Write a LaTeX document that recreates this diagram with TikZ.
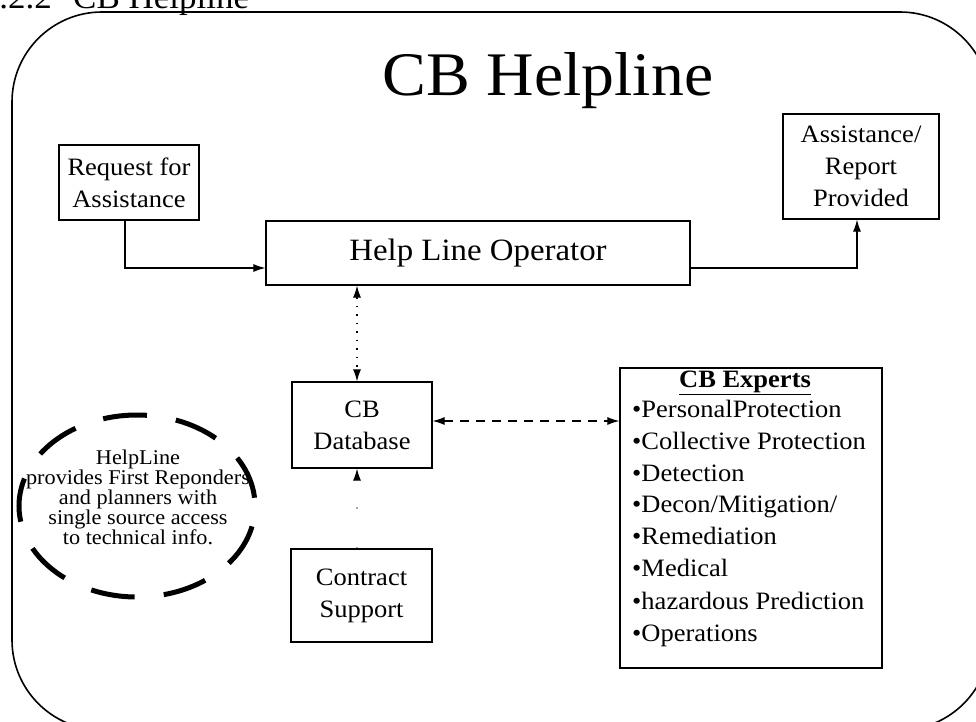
\documentclass[tikz,border=0pt]{standalone}
\usepackage{fontspec}
\setmainfont[FakeStretch=1.06]{Liberation Serif}
\usetikzlibrary{arrows.meta,shapes.geometric}
\begin{document}
\begin{tikzpicture}[x=1pt,y=-1pt,
  box/.style={draw, line width=1.2pt, inner sep=0pt, align=center,
              font=\fontsize{25}{32}\selectfont},
  arr/.style={-{Latex[length=12pt,width=8pt]}, line width=1.1pt},
  biarr/.style={{Latex[length=12pt,width=8pt]}-{Latex[length=12pt,width=8pt]}, line width=1.1pt},
  listitem/.style={anchor=base west, inner sep=0pt, font=\fontsize{25}{32}\selectfont}
]
\useasboundingbox (0,0) rectangle (976,721);

% outer frame
\draw[line width=1.6pt, rounded corners=90pt] (12,12) rectangle (990,730);

% clipped heading (cut off at the top edge, as in the reference)
\node[anchor=base east, inner sep=0pt, font=\fontsize{33}{40}\selectfont] (secnum) at (52,8) {5.2.2};
\node[anchor=base west, inner sep=0pt, font=\fontsize{33}{40}\selectfont] (sechead) at (73,8) {CB Helpline};

% title
\node[anchor=base, inner sep=0pt, font=\fontsize{62}{70}\selectfont] (title) at (548,95) {CB Helpline};

% boxes
\node[box, minimum width=140pt, minimum height=75pt] (req) at (129,182.5) {Request for\\Assistance};
\node[box, minimum width=424pt, minimum height=64pt, font=\fontsize{31}{36}\selectfont] (hlo) at (478,253) {Help Line Operator};
\node[box, minimum width=156pt, minimum height=105pt] (ast) at (861,166.5) {Assistance/\\Report\\Provided};
\node[box, minimum width=140pt, minimum height=86pt] (db) at (362,425) {CB\\Database};
\node[box, minimum width=141pt, minimum height=93pt] (cs) at (361.5,595.5) {Contract\\Support};
\node[box, minimum width=262pt, minimum height=300pt] (exp) at (751,518) {};

% experts list
\node[anchor=base, inner sep=0pt, font=\fontsize{25}{32}\selectfont\bfseries] (exphead) at (745,387) {\underline{CB Experts}};
\node[listitem] (e1) at (632,417) {\textbullet PersonalProtection};
\node[listitem] (e2) at (632,449) {\textbullet Collective Protection};
\node[listitem] (e3) at (632,481) {\textbullet Detection};
\node[listitem] (e4) at (632,512) {\textbullet Decon/Mitigation/};
\node[listitem] (e5) at (632,544) {\textbullet Remediation};
\node[listitem] (e6) at (632,576) {\textbullet Medical};
\node[listitem] (e7) at (632,609) {\textbullet hazardous Prediction};
\node[listitem] (e8) at (632,641) {\textbullet Operations};

% note ellipse
\node[align=center, inner sep=0pt, font=\fontsize{21}{20}\selectfont] (notetext) at (138,497)
  {HelpLine\\provides First Reponders\\and planners with\\single source access\\to technical info.};
\node[ellipse, draw, line width=5pt, minimum width=236pt, minimum height=182pt,
      dash pattern=on 44pt off 29.3pt, dash phase=65pt] (note) at (137,506) {};

% connectors
\coordinate (dbtop) at ([xshift=-5pt]db.north);
\coordinate (dbbot) at ([xshift=-5pt]db.south);
\draw[arr] ([xshift=-4pt]req.south) |- ([yshift=-15pt]hlo.west);
\draw[arr] ([yshift=-15pt]hlo.east) -| ([xshift=-4pt]ast.south);
\draw[biarr, dash pattern=on 1.5pt off 7pt] (dbtop |- hlo.south) -- (dbtop);
\draw[biarr, dash pattern=on 9pt off 7pt] ([yshift=4pt]db.east) -- ([yshift=4pt]db.east -| exp.west);
\draw[-{Latex[length=12pt,width=8pt,color=black]}, line width=1.1pt, draw=black!35,
      dash pattern=on 1.5pt off 38pt] (dbbot |- cs.north) -- (dbbot);
\end{tikzpicture}
\end{document}
